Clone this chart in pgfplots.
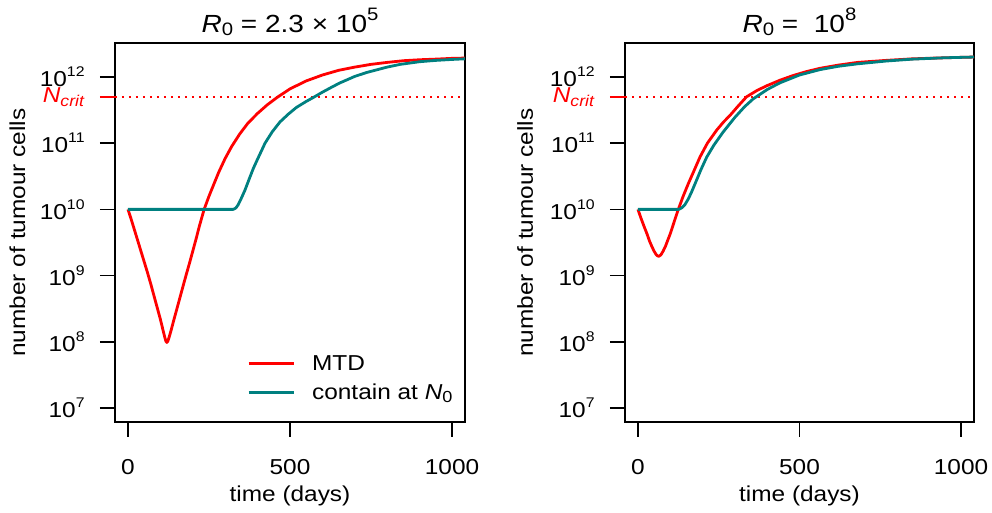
\documentclass[border=0pt]{standalone}
\usepackage{fontspec}
\setmainfont{Liberation Sans}[FakeStretch=1.13]
\usepackage{pgfplots}
\pgfplotsset{compat=1.18}
\definecolor{mtd}{RGB}{255,0,0}
\definecolor{cont}{RGB}{0,128,128}

% 10^n in text font
\newcommand{\tp}[1]{10\raisebox{5pt}{\fontsize{7}{8}\selectfont #1}}
\newcommand{\ttp}[1]{10\raisebox{6pt}{\fontsize{9}{9}\selectfont #1}}
\newcommand{\tsub}[1]{\raisebox{-1.4pt}{\fontsize{9}{9}\selectfont #1}}
\newcommand{\lsub}[1]{\raisebox{-1.6pt}{\fontsize{8}{9}\selectfont #1}}
\newcommand{\ncrit}{\textit{N}\raisebox{-2pt}{\fontsize{7.8}{8}\selectfont\textit{crit}}}

\begin{document}
\begin{tikzpicture}
\useasboundingbox (0,0) rectangle (496pt,-256.5pt);

\begin{axis}[at={(57.5pt,-21.5pt)}, anchor=north west,
  scale only axis, width=175pt, height=189.5pt,
  xmin=-40, xmax=1040,
  ymode=log, ymin=6.14e6, ymax=3.26e12,
  axis line style={line width=0.9pt},
  xtick={0,500,1000}, xticklabels={0,500,1000},
  ytick={1e7,1e8,1e9,1e10,1e11,1e12},
  yticklabels={\tp{7},\tp{8},\tp{9},\tp{10},\tp{11},\tp{12}},
  yminorticks=false,
  xtick pos=bottom, ytick pos=left,
  tick align=outside, major tick length=7.5pt,
  major tick style={black, line width=0.8pt},
  /pgf/number format/assume math mode=true,
  tick label style={font=\fontsize{10.8}{12}\selectfont},
  xticklabel style={inner sep=0pt, yshift=-11pt},
  yticklabel style={anchor=east, inner sep=0pt, xshift=-7.5pt},
  label style={font=\fontsize{10.8}{12}\selectfont},
  xlabel={time (days)},
  xlabel style={at={(axis description cs:0.5,-0.211)}, anchor=base},
  ylabel={number of tumour cells},
  ylabel style={at={(axis description cs:-0.257,0.5)}, anchor=base},
  title style={font=\fontsize{12.4}{14}\selectfont, at={(axis description cs:0.5,1)}, anchor=base, yshift=-0.65pt},
  title={\textit{R}\tsub{0} = 2.3 × \ttp{5}},
  extra y ticks={5e11},
  extra y tick labels={\ncrit},
  extra y tick style={major tick style={mtd, line width=0.8pt}, yticklabel style={text=mtd}},
  legend style={draw=none, fill=none, at={(axis description cs:0.377,0.177)}, anchor=north west,
    inner sep=0pt, row sep=6.3pt, column sep=8.5pt,
    nodes={inner sep=0pt, text height=7.7pt, text depth=0.5pt, font=\fontsize{10.8}{12}\selectfont}},
  legend cell align=left,
  legend image code/.code={\draw[#1] (0pt,0pt) -- (22.5pt,0pt);},
]
\addplot[mtd, forget plot, line width=0.9pt, dash pattern=on 0.9pt off 2.6pt] coordinates {(-40,5e11) (1040,5e11)};
% MTD, R0 = 2.3e5
\addplot[mtd, line width=1.4pt, line join=round] coordinates {
(0,1.00e10) (10,7.08e9) (20,4.90e9) (30,3.39e9) (40,2.34e9) (50,1.62e9) (60,1.12e9)
(70,7.59e8) (80,5.01e8) (90,3.31e8) (100,2.19e8) (108,1.51e8) (113,1.20e8) (117,1.02e8)
(120,9.77e7) (123,1.02e8) (127,1.17e8) (133,1.48e8) (140,2.00e8) (150,3.02e8) (160,4.57e8)
(170,6.92e8) (179,1.00e9) (190,1.55e9) (200,2.34e9) (210,3.55e9) (220,5.50e9) (235,1.00e10)
(250,1.58e10) (265,2.40e10) (280,3.63e10) (300,5.89e10) (320,8.91e10) (345,1.38e11)
(370,2.00e11) (400,2.82e11) (430,3.80e11) (460,4.90e11) (500,6.61e11) (550,8.71e11)
(600,1.07e12) (650,1.26e12) (700,1.41e12) (750,1.55e12) (800,1.66e12) (850,1.76e12)
(900,1.82e12) (950,1.86e12) (1000,1.91e12) (1040,1.93e12)
};
\addlegendentry{MTD}
% contain at N0, R0 = 2.3e5
\addplot[cont, line width=1.4pt, line join=round] coordinates {
(0,1.00e10) (325,1.00e10) (333,1.05e10) (340,1.17e10) (350,1.48e10) (361,1.95e10)
(375,2.95e10) (387,4.17e10) (400,5.75e10) (423,1.00e11) (445,1.48e11) (469,2.09e11)
(495,2.75e11) (520,3.47e11) (550,4.27e11) (572,4.90e11) (600,5.89e11) (634,7.24e11)
(654,8.13e11) (700,1.02e12) (737,1.17e12) (800,1.41e12) (840,1.55e12) (900,1.70e12)
(950,1.78e12) (1000,1.84e12) (1040,1.88e12)
};
\addlegendentry{contain at \textit{N}\lsub{0}}
\end{axis}

\begin{axis}[at={(312.5pt,-21.5pt)}, anchor=north west,
  scale only axis, width=174.5pt, height=189.5pt,
  xmin=-40, xmax=1040,
  ymode=log, ymin=6.14e6, ymax=3.26e12,
  axis line style={line width=0.9pt},
  xtick={0,500,1000}, xticklabels={0,500,1000},
  ytick={1e7,1e8,1e9,1e10,1e11,1e12},
  yticklabels={\tp{7},\tp{8},\tp{9},\tp{10},\tp{11},\tp{12}},
  yminorticks=false,
  xtick pos=bottom, ytick pos=left,
  tick align=outside, major tick length=7.5pt,
  major tick style={black, line width=0.8pt},
  /pgf/number format/assume math mode=true,
  tick label style={font=\fontsize{10.8}{12}\selectfont},
  xticklabel style={inner sep=0pt, yshift=-11pt},
  yticklabel style={anchor=east, inner sep=0pt, xshift=-7.5pt},
  label style={font=\fontsize{10.8}{12}\selectfont},
  xlabel={time (days)},
  xlabel style={at={(axis description cs:0.5,-0.211)}, anchor=base},
  ylabel={number of tumour cells},
  ylabel style={at={(axis description cs:-0.264,0.5)}, anchor=base},
  title style={font=\fontsize{12.4}{14}\selectfont, at={(axis description cs:0.5,1)}, anchor=base, yshift=-0.65pt},
  title={\textit{R}\tsub{0} = \ \ttp{8}},
  extra y ticks={5e11},
  extra y tick labels={\ncrit},
  extra y tick style={major tick style={mtd, line width=0.8pt}, yticklabel style={text=mtd}},
]
\addplot[mtd, line width=0.9pt, dash pattern=on 0.9pt off 2.6pt] coordinates {(-40,5e11) (1040,5e11)};
% MTD, R0 = 1e8
\addplot[mtd, line width=1.4pt, line join=round] coordinates {
(0,1.00e10) (10,7.24e9) (20,5.37e9) (28,4.27e9) (36,3.31e9) (44,2.69e9) (50,2.34e9)
(56,2.09e9) (60,2.00e9) (64,1.95e9) (68,2.00e9) (72,2.09e9) (78,2.34e9) (85,2.75e9)
(92,3.39e9) (100,4.27e9) (108,5.62e9) (116,7.41e9) (125,1.00e10) (140,1.58e10)
(156,2.45e10) (175,3.98e10) (192,6.17e10) (215,1.00e11) (244,1.58e11) (265,2.09e11)
(285,2.63e11) (310,3.63e11) (336,5.01e11) (370,6.31e11) (400,7.41e11) (439,8.91e11)
(480,1.05e12) (520,1.20e12) (563,1.35e12) (620,1.51e12) (680,1.66e12) (768,1.78e12)
(850,1.88e12) (950,1.95e12) (1040,2.00e12)
};
% contain at N0, R0 = 1e8
\addplot[cont, line width=1.4pt, line join=round] coordinates {
(0,1.00e10) (126,1.00e10) (135,1.05e10) (145,1.17e10) (155,1.41e10) (165,1.78e10)
(177,2.45e10) (195,3.98e10) (213,6.17e10) (235,9.33e10) (264,1.48e11) (300,2.45e11)
(330,3.55e11) (357,4.68e11) (400,6.46e11) (439,8.13e11) (500,1.07e12) (563,1.29e12)
(620,1.45e12) (680,1.58e12) (768,1.74e12) (850,1.86e12) (950,1.95e12) (1040,2.00e12)
};
\end{axis}
\end{tikzpicture}
\end{document}
